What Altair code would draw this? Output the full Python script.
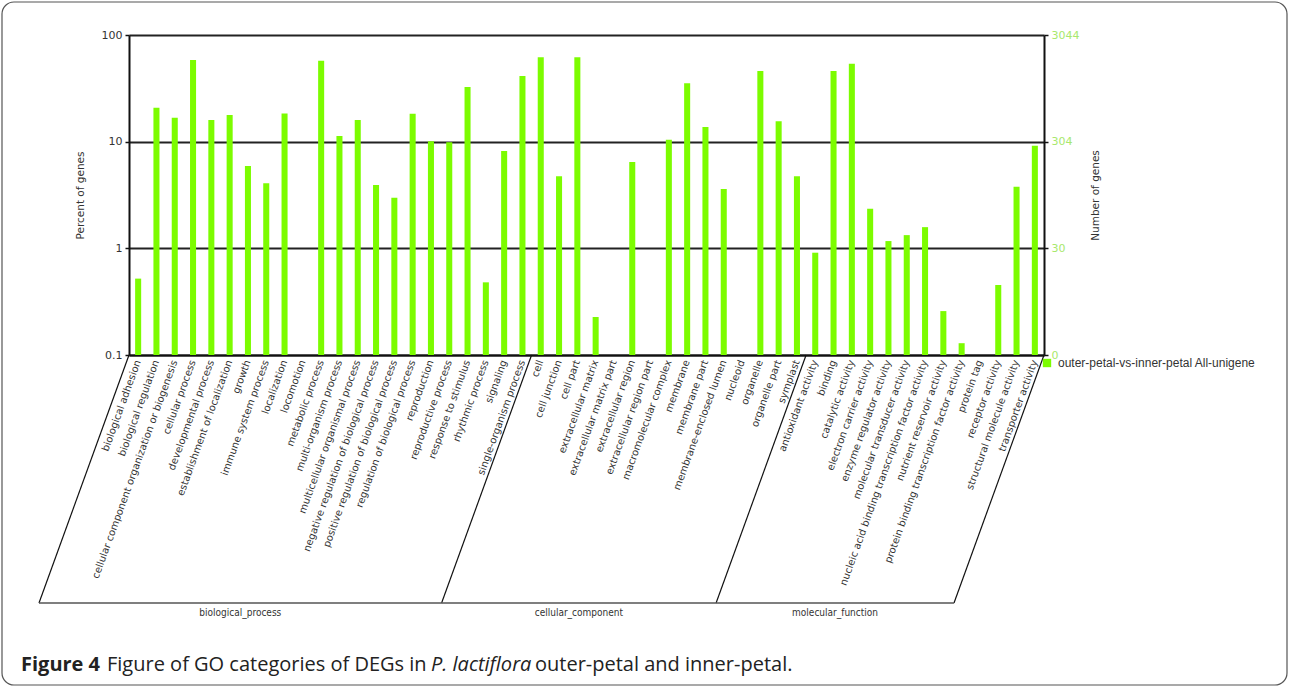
import altair as alt
import pandas as pd

# GO level-2 terms, grouped by ontology
bp_terms = [
    "biological adhesion", "biological regulation",
    "cellular component organization or biogenesis", "cellular process",
    "developmental process", "establishment of localization", "growth",
    "immune system process", "localization", "locomotion", "metabolic process",
    "multi-organism process", "multicellular organismal process",
    "negative regulation of biological process",
    "positive regulation of biological process",
    "regulation of biological process", "reproduction", "reproductive process",
    "response to stimulus", "rhythmic process", "signaling",
    "single-organism process",
]
bp_pct = [0.52, 20.8, 16.8, 58.3, 16.0, 17.8, 5.9, 4.07, 18.4, 0, 57.4, 11.3,
          16.0, 3.93, 2.98, 18.3, 10.1, 9.86, 32.5, 0.48, 8.17, 41.3]

cc_terms = [
    "cell", "cell junction", "cell part", "extracellular matrix",
    "extracellular matrix part", "extracellular region",
    "extracellular region part", "macromolecular complex", "membrane",
    "membrane part", "membrane-enclosed lumen", "nucleoid", "organelle",
    "organelle part", "symplast",
]
cc_pct = [61.8, 4.73, 61.8, 0.227, 0, 6.45, 0, 10.4, 35.2, 13.7, 3.6, 0, 46.0,
          15.5, 4.73]

mf_terms = [
    "antioxidant activity", "binding", "catalytic activity",
    "electron carrier activity", "enzyme regulator activity",
    "molecular transducer activity",
    "nucleic acid binding transcription factor activity",
    "nutrient reservoir activity",
    "protein binding transcription factor activity", "protein tag",
    "receptor activity", "structural molecule activity", "transporter activity",
]
mf_pct = [0.91, 46.0, 53.8, 2.35, 1.17, 1.33, 1.58, 0.258, 0.129, 0, 0.453,
          3.78, 9.17]

ontologies = ["biological_process", "cellular_component", "molecular_function"]
series_name = "outer-petal-vs-inner-petal All-unigene"
total_genes = 3044
axis_ticks = [0.1, 1, 10, 100]

# ---- tables -------------------------------------------------------------
terms = bp_terms + cc_terms + mf_terms
pcts = bp_pct + cc_pct + mf_pct
bars = pd.DataFrame({"term": terms, "pct": pcts, "series": series_name})
bars = bars[bars["pct"] > 0]

sizes = [len(bp_terms), len(cc_terms), len(mf_terms)]
starts = [0, sizes[0], sizes[0] + sizes[1]]
n_terms = len(terms)
edges = pd.DataFrame({"edge": starts + [n_terms]})
groups = pd.DataFrame({
    "name": ontologies,
    "mid": [s + k / 2 for s, k in zip(starts, sizes)],
})
span = pd.DataFrame({"a": [0], "b": [n_terms]})

W, H = 915, 320
SLANT = 90      # horizontal run of the bracket sides
DEPTH = 568     # bracket bottom, pixels below plot top
GREEN = "#7cfc00"
INK = "#333333"

xband = alt.Scale(domain=terms, paddingInner=0, paddingOuter=0)
ylog = alt.Scale(type="log", domain=[0.1, 100], nice=False)
xlin = alt.Scale(domain=[0, n_terms], nice=False, zero=False)

base = alt.Chart(bars)

bar_layer = base.mark_bar(width=alt.RelativeBandSize(0.33)).encode(
    x=alt.X("term:N", scale=xband, sort=terms, title=None,
            axis=alt.Axis(labelAngle=290, labelAlign="right",
                          labelBaseline="middle", labelFontSize=10,
                          labelFont="DejaVu Sans", labelColor=INK,
                          labelPadding=5, labelLimit=400, labelOverlap=False,
                          ticks=False, domainColor="#111111", domainWidth=2)),
    y=alt.Y("pct:Q", scale=ylog, title="Percent of genes",
            axis=alt.Axis(values=axis_ticks, format="~g", grid=True,
                          gridColor="#222222", gridWidth=2,
                          domainColor="#111111", domainWidth=2,
                          tickColor="#111111", tickSize=4, tickWidth=1.5,
                          labelFont="DejaVu Sans", labelFontSize=11,
                          labelColor=INK, labelPadding=3,
                          titleFont="DejaVu Sans", titleFontSize=10.5,
                          titleFontWeight="normal", titleColor=INK,
                          titlePadding=16)),
    y2=alt.Y2(datum=0.1),
    color=alt.Color("series:N", scale=alt.Scale(range=[GREEN]),
                    legend=alt.Legend(orient="none", legendX=912, legendY=322,
                                      title=None, symbolType="square",
                                      symbolSize=70, symbolStrokeWidth=0,
                                      labelFont="Liberation Sans",
                                      labelFontSize=12, labelColor=INK,
                                      labelOffset=5, labelLimit=400,
                                      padding=0)),
)

right_axis = base.mark_bar(opacity=0).encode(
    x=alt.X("term:N", scale=xband, sort=terms, axis=None),
    y=alt.Y("pct:Q", scale=ylog, title="Number of genes",
            axis=alt.Axis(orient="right", values=axis_ticks,
                          labelExpr=f"datum.value < 1 ? '0' : format(floor(datum.value * {total_genes} / 100), 'd')",
                          grid=False, domainColor="#111111", domainWidth=2,
                          tickColor="#111111", tickSize=4, tickWidth=1.5,
                          labelFont="DejaVu Sans", labelFontSize=11,
                          labelColor="#a8e86c", labelPadding=3,
                          titleFont="DejaVu Sans", titleFontSize=10.5,
                          titleFontWeight="normal", titleColor=INK,
                          titleAngle=270, titlePadding=22)),
)

# slanted bracket sides under the category labels
sides = alt.Chart(edges).mark_rule(color="#111111", strokeWidth=1.2,
                                   x2Offset=-SLANT).encode(
    x=alt.X("edge:Q", scale=xlin, axis=None),
    x2=alt.X2("edge:Q"),
    y=alt.value(H),
    y2=alt.value(DEPTH),
)

bottom = alt.Chart(span).mark_rule(color="#555555", strokeWidth=1.5,
                                   xOffset=-SLANT, x2Offset=-SLANT).encode(
    x=alt.X("a:Q", scale=xlin, axis=None),
    x2=alt.X2("b:Q"),
    y=alt.value(DEPTH),
)

group_text = alt.Chart(groups).mark_text(
    font="Liberation Sans Narrow, DejaVu Sans Condensed, Liberation Sans, sans-serif",
    fontSize=10, color=INK, dx=-SLANT, baseline="middle", align="center",
).encode(
    x=alt.X("mid:Q", scale=xlin, axis=None),
    y=alt.value(DEPTH + 10),
    text="name:N",
)

# rounded frame around the figure
frame = alt.Chart(span).mark_rect(
    filled=False, stroke="#555555", strokeWidth=1.2, cornerRadius=12,
).encode(
    x=alt.value(-127), x2=alt.value(1158),
    y=alt.value(-33), y2=alt.value(650),
)

# caption, set in runs so the species name can be italic
cap = pd.DataFrame({
    "txt": ["Figure 4", "Figure of GO categories of DEGs in", "P. lactiflora",
            "outer-petal and inner-petal."],
    "x0": [-108, -22, 302, 406],
    "weight": ["bold", "normal", "normal", "normal"],
    "style": ["normal", "normal", "italic", "normal"],
})
caption_layers = []
for _, r in cap.iterrows():
    caption_layers.append(
        alt.Chart(pd.DataFrame({"t": [r.txt]})).mark_text(
            font="Open Sans", fontSize=20, fontWeight=r.weight,
            fontStyle=r["style"], color="#222222", align="left",
            baseline="middle",
        ).encode(x=alt.value(int(r.x0)), y=alt.value(630), text="t:N")
    )

chart = alt.layer(
    frame, bar_layer, right_axis, sides, bottom, group_text, *caption_layers
).resolve_scale(x="independent").resolve_axis(y="independent").properties(
    width=W, height=H,
    autosize=alt.AutoSizeParams(type="none"),
    padding={"left": 129, "top": 35, "right": 245, "bottom": 332},
    background="white",
).configure_view(stroke=None)

chart.save("out.html", embed_options={"renderer": "svg", "actions": False})
